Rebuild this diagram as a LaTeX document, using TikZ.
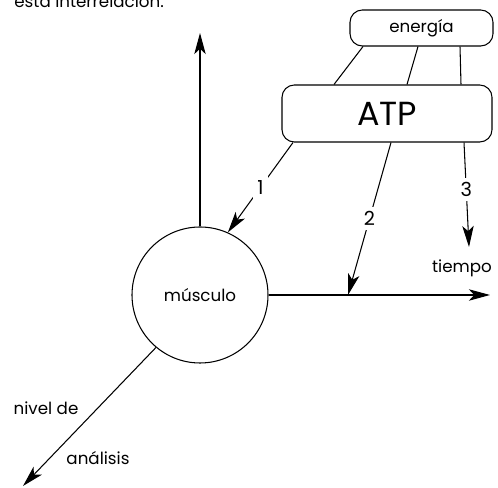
\documentclass[tikz,border=0pt]{standalone}
\usepackage{fontspec}
\setmainfont{Poppins}
\usetikzlibrary{arrows.meta}

\begin{document}
\begin{tikzpicture}[box node/.style={draw, rounded corners=7pt, minimum width=#1},
  main node/.style={circle, draw, minimum size=2.72cm, inner sep=0pt},
  lab node/.style={fill=white, inner sep=2.5pt, font=\fontsize{11}{13}\selectfont},
  every node/.style={font=\fontsize{9.5}{11}\selectfont},
  >={Stealth[length=12pt, width=6.5pt, inset=3pt]}, line width=0.6pt]
  \clip (0,0) rectangle (9.96,9.76);
  \node[anchor=base west] (top) at (0.16,9.6) {esta interrelación.};

  % boxes
  \node[box node=2.86cm, minimum height=0.72cm] (ener) at (8.43,9.2) {energía};
  \node[box node=4.2cm, minimum height=1.14cm, font=\fontsize{19}{21}\selectfont] (atp) at (7.74,7.49) {ATP};
  \node[main node] (mus) at (4.0,3.86) {músculo};

  % axis ends
  \coordinate (up) at (4.0,9.1);
  \coordinate (right) at (9.8,3.86);
  \coordinate (down) at (0.46,0.04);
  \coordinate (t2) at (6.96,3.86);
  \coordinate (t3) at (9.38,4.82);
  \node (tiempo) at (9.24,4.4) {tiempo};
  \node (nivel) at (0.92,1.6) {nivel de};
  \node (analisis) at (1.96,0.6) {análisis};

\path ([xshift=-1.17cm]ener.south) [-] edge node [] {} ([xshift=-1.06cm]atp.north)
([xshift=-0.07cm]ener.south) [-] edge node [] {} ([xshift=0.40cm]atp.north)
([xshift=0.77cm]ener.south) [-] edge node [] {} ([xshift=1.48cm]atp.north)
([xshift=-1.88cm]atp.south) [->] edge node [lab node, pos=0.5] {1} (mus.66)
([xshift=0.08cm]atp.south) [->] edge node [lab node, pos=0.5] {2} (t2)
([xshift=1.54cm]atp.south) [->] edge node [lab node, pos=0.45] {3} (t3)
(mus.north) [->] edge node [] {} (up)
(mus.east) [->] edge node [] {} (right)
(mus.-130) [->] edge node [] {} (down);
\end{tikzpicture}
\end{document}
